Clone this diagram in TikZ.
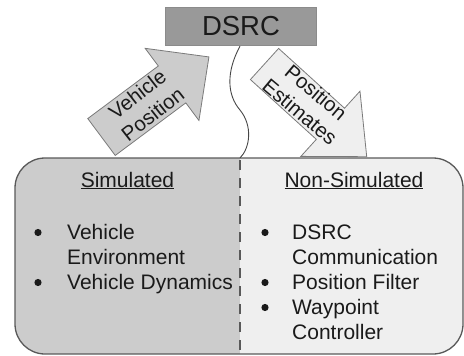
\documentclass[tikz,border=0pt]{standalone}
\usepackage{fontspec}
\setmainfont{Liberation Sans}
\definecolor{dsrcfill}{HTML}{999999}
\definecolor{simfill}{HTML}{CCCCCC}
\definecolor{nonsimfill}{HTML}{EFEFEF}
\definecolor{edge}{HTML}{595959}
\definecolor{ink}{HTML}{1A1A1A}
\tikzset{
  bodytext/.style={anchor=base west, inner sep=0pt, font=\fontsize{21}{25}\selectfont, text=ink},
  titletext/.style={anchor=base, inner sep=0pt, font=\fontsize{21}{25}\selectfont, text=ink},
  arrowtext/.style={inner sep=0pt, align=center, font=\fontsize{20.5}{25}\selectfont, text=ink},
  bigarrow/.style={draw=edge!80, line width=0.8pt, line join=miter},
  bul/.style={fill=ink}
}
\begin{document}
\begin{tikzpicture}[x=1pt,y=-1pt]
\useasboundingbox (0,0) rectangle (464,356);
% bottom box
\begin{scope}
  \clip[rounded corners=30] (15,158) rectangle (463,354);
  \fill[simfill] (15,158) rectangle (240,354);
  \fill[nonsimfill] (240,158) rectangle (463,354);
\end{scope}
\draw[edge, line width=1.3pt, rounded corners=30] (15,158) rectangle (463,354);
\coordinate (divtop) at (240,158);
\coordinate (divbot) at (240,354);
\draw[edge, line width=2pt, dash pattern=on 10pt off 8pt, dash phase=-2pt] (divtop) -- (divbot);
% DSRC box
\node[draw=edge!70, line width=0.8pt, fill=dsrcfill, minimum width=151.5pt, minimum height=38.5pt, inner sep=0pt,
      font=\fontsize{27.5}{30}\selectfont, text=ink] (dsrc) at (241,26.5) {DSRC};
% wavy line
\draw[edge!80!black, line width=0.9pt] (dsrc.south -| 240,0) .. controls (226,72) and (227,95) .. (240,110)
   .. controls (253,126) and (250,148) .. (divtop);
% left arrow
\begin{scope}[shift={(101.5,137)}, rotate=36.7]
  \filldraw[bigarrow, fill=simfill] (0,-23) -- (88,-23) -- (88,-45) -- (134,0) -- (88,45) -- (88,23) -- (0,23) -- cycle;
\end{scope}
\node[arrowtext, rotate=38] (vp) at (145,104) {Vehicle\\Position};
% right arrow
\begin{scope}[shift={(264.5,64)}, rotate=-42.2]
  \filldraw[bigarrow, fill=nonsimfill] (0,-21) -- (89,-21) -- (89,-44) -- (138,0) -- (89,44) -- (89,21) -- (0,21) -- cycle;
\end{scope}
\node[arrowtext, rotate=-40] (pe) at (308,102) {Position\\Estimates};
% titles
\node[titletext] (sim) at (127.5,187) {\underline{Simulated}};
\node[titletext] (nonsim) at (354,187) {\underline{Non-Simulated}};
% left list
\fill[bul] (38,232.5) circle (3.6);
\node[bodytext] (l1) at (67,239) {Vehicle};
\node[bodytext] (l2) at (67,264) {Environment};
\fill[bul] (38,282.5) circle (3.6);
\node[bodytext] (l3) at (67,289) {Vehicle Dynamics};
% right list
\fill[bul] (265,232.5) circle (3.6);
\node[bodytext] (r1) at (292,239) {DSRC};
\node[bodytext] (r2) at (292,264) {Communication};
\fill[bul] (265,282.5) circle (3.6);
\node[bodytext] (r3) at (292,289) {Position Filter};
\fill[bul] (265,307.5) circle (3.6);
\node[bodytext] (r4) at (292,314) {Waypoint};
\node[bodytext] (r5) at (292,339) {Controller};
\end{tikzpicture}
\end{document}
